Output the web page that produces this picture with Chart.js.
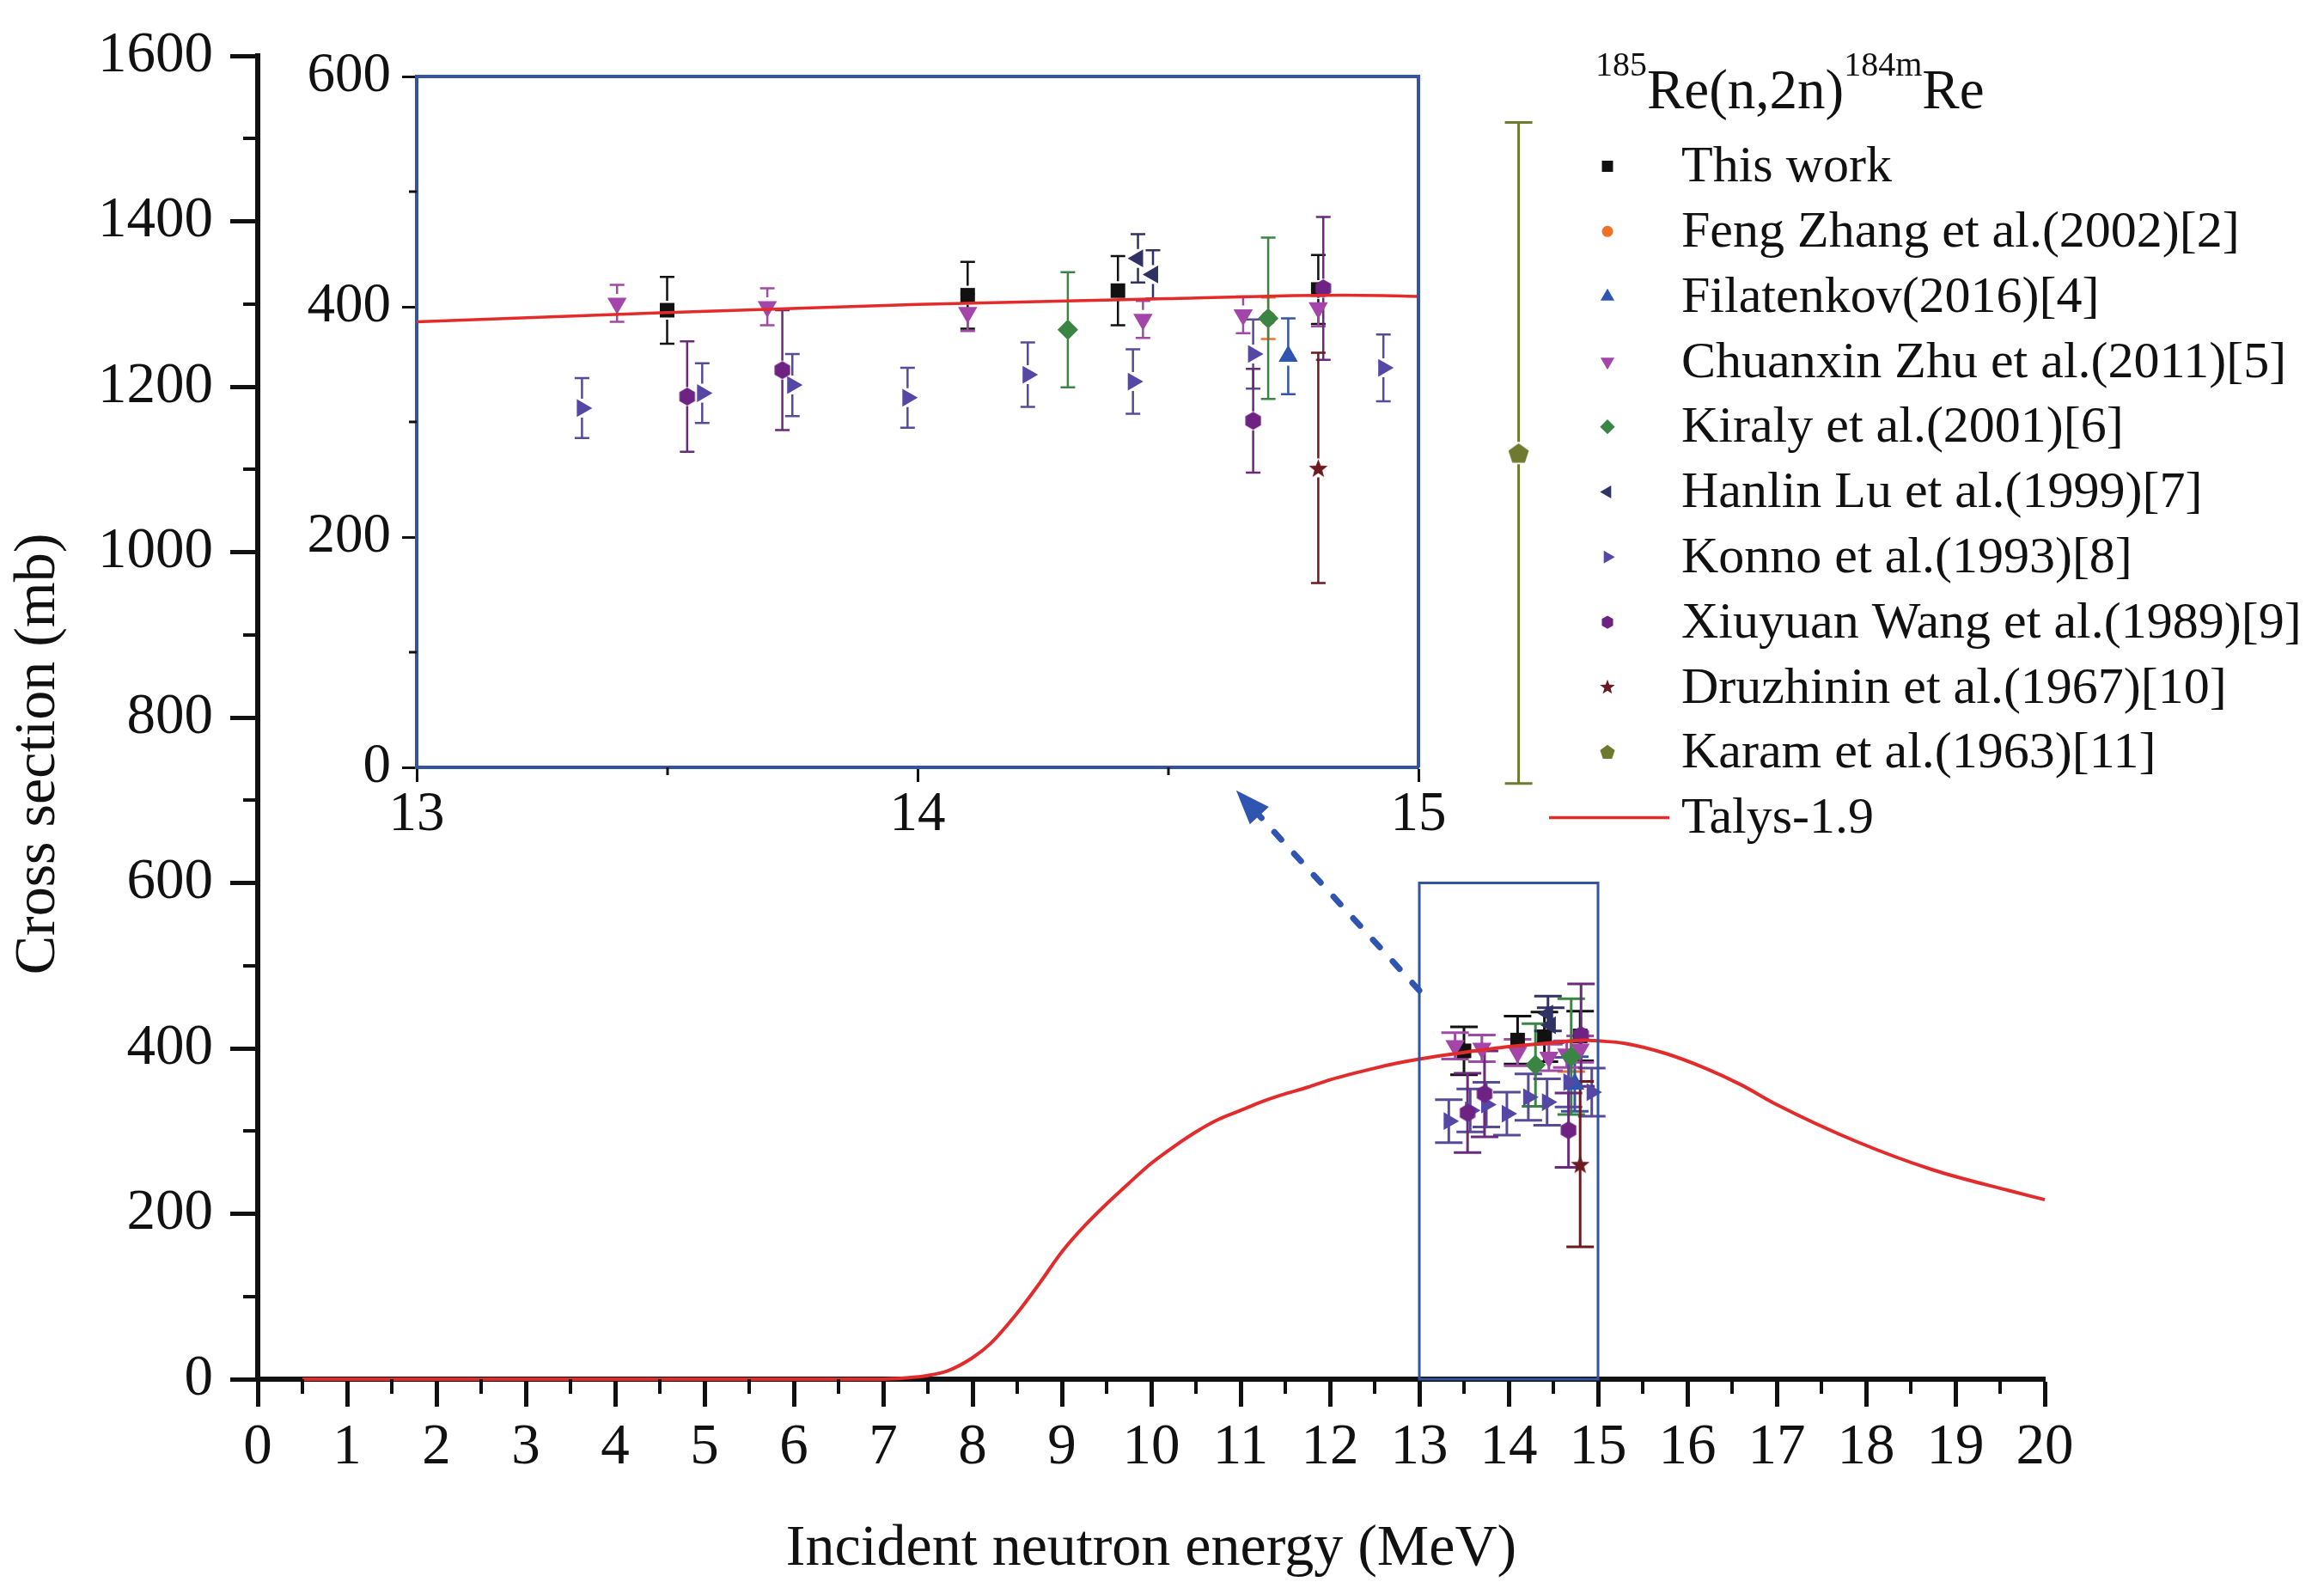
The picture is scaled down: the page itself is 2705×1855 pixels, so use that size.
<!DOCTYPE html>
<html><head><meta charset="utf-8">
<script src="https://cdn.jsdelivr.net/npm/chart.js@4.4.0/dist/chart.umd.min.js"></script>
<style>
html,body{margin:0;padding:0;background:#fff;}
#wrap{position:relative;width:2705px;height:1855px;background:#fff;}
#wrap canvas{position:absolute;left:0;top:0;}
</style></head><body>
<div id="wrap"><canvas id="main" width="2705" height="1855"></canvas><canvas id="inset" width="2705" height="1855"></canvas><canvas id="extra" width="2705" height="1855"></canvas></div>
<script>
// ---------- DATA ----------
const talysE  = [0.5, 7.0, 7.25, 7.5, 7.72, 8.0, 8.2, 8.5, 8.75, 9.0, 9.25, 9.5, 9.75, 10.0, 10.25, 10.5, 10.75, 11.0, 11.25, 11.5, 11.75, 12.0, 12.5, 12.75, 13.0, 13.5, 14.0, 14.5, 14.85, 15.0, 15.3, 15.75, 16.2, 16.6, 17.0, 17.9, 18.75, 19.6, 20.0];
const talysXS = [0, 0, 1.5, 4.5, 10, 26, 43, 80, 116, 154, 185, 212, 237, 261, 281, 299, 314, 325, 336, 345, 353, 362, 376, 382, 387, 395, 402, 407, 410, 409, 406, 394, 376, 356, 332, 287, 253, 228, 217];

const thisWorkE = [13.50, 14.10, 14.40, 14.80];
const thisWorkXS = [397, 410, 414, 415];
const thisWorkErr = [29, 29, 30, 30];

const zhangE = [14.70];
const zhangXS = [390];
const zhangErr = [18];

const filatenkovE = [14.74];
const filatenkovXS = [357];
const filatenkovErr = [33];

const zhuE = [13.40, 13.70, 14.10, 14.45, 14.65, 14.80];
const zhuXS = [403, 400, 395, 389, 393, 399];
const zhuErr = [16, 16, 16, 16, 16, 16];

const kiralyE = [14.30, 14.70];
const kiralyXS = [380, 390];
const kiralyErr = [50, 70];

const luE = [14.44, 14.47];
const luXS = [442, 428];
const luErr = [21, 21];

const konnoE = [13.33, 13.57, 13.75, 13.98, 14.22, 14.43, 14.67, 14.93];
const konnoXS = [312, 325, 332, 321, 341, 335, 359, 347];
const konnoErr = [26, 26, 27, 26, 28, 28, 30, 29];

const wangE = [13.54, 13.73, 14.67, 14.81];
const wangXS = [322, 345, 301, 416];
const wangErr = [48, 52, 45, 62];

const druzhininE = [14.80];
const druzhininXS = [260];
const druzhininErr = [100];

const karamE = [15.20];
const karamXS = [273];
const karamErr = [287];

const seriesLabels = ['This work','Feng Zhang et al.(2002)[2]','Filatenkov(2016)[4]','Chuanxin Zhu et al.(2011)[5]','Kiraly et al.(2001)[6]','Hanlin Lu et al.(1999)[7]','Konno et al.(1993)[8]','Xiuyuan Wang et al.(1989)[9]','Druzhinin et al.(1967)[10]','Karam et al.(1963)[11]'];
const talysLabel = 'Talys-1.9';

const mainXTicks = {min:0, max:20, step:1, minor:0.5};
const mainYTicks = {min:0, max:1600, step:200, minor:100};
const insetXTicks = {min:13, max:15, step:1, minor:0.5};
const insetYTicks = {min:0, max:600, step:200, minor:100};

// zoom box (in main-chart values) and arrow annotation
const zoomBox = {x0:13, x1:15, y0:0, y1:600};
const arrowTail = {x:13, y:470};
const arrowHead = {x:10.95, y:712};

// ---------- STYLE ----------
const FONT = "'Liberation Serif','Times New Roman',serif";
const INK = '#111111';
const FRAME = '#3453A0';
const RED = '#E22B2B';

function shapeCanvas(kind, r, color){
  const s = Math.ceil(r*2+2);
  const c = document.createElement('canvas'); c.width = s; c.height = s;
  const g = c.getContext('2d'); g.fillStyle = color; g.translate(s/2, s/2);
  g.beginPath();
  if (kind==='hexagon'){
    for(let k=0;k<6;k++){const a=-Math.PI/2+k*Math.PI/3; const px=r*Math.cos(a), py=r*Math.sin(a); k?g.lineTo(px,py):g.moveTo(px,py);}
  } else if (kind==='pentagon'){
    for(let k=0;k<5;k++){const a=-Math.PI/2+k*2*Math.PI/5; const px=r*Math.cos(a), py=r*Math.sin(a)+r*0.09; k?g.lineTo(px,py):g.moveTo(px,py);}
  } else if (kind==='star'){
    for(let k=0;k<10;k++){const a=-Math.PI/2+k*Math.PI/5; const rr=k%2?r*0.42:r; const px=rr*Math.cos(a), py=rr*Math.sin(a)+r*0.1; k?g.lineTo(px,py):g.moveTo(px,py);}
  }
  g.closePath(); g.fill();
  return c;
}

const markerDefs = [
  {style:'rect', rot:0, r:12, color:'#111111', err:'#111111'},
  {style:'circle', rot:0, r:9, color:'#F07028', err:'#F07028'},
  {style:'triangle', rot:0, r:13, color:'#2F55B0', err:'#3455A8'},
  {style:'triangle', rot:180, r:13, color:'#A445AA', err:'#A04AA6'},
  {style:'rectRot', rot:0, r:12, color:'#3A8543', err:'#3A8543'},
  {style:'triangle', rot:270, r:12, color:'#2F3262', err:'#2F3262'},
  {style:'triangle', rot:90, r:12, color:'#5447A6', err:'#594A98'},
  {style:'hexagon', rot:0, r:10.5, color:'#6E2382', err:'#6A2A7A'},
  {style:'star', rot:0, r:11.5, color:'#6B1A22', err:'#6B1A22'},
  {style:'pentagon', rot:0, r:12.5, color:'#6F7A30', err:'#6F7A30'}
];
const seriesE = [thisWorkE, zhangE, filatenkovE, zhuE, kiralyE, luE, konnoE, wangE, druzhininE, karamE];
const seriesXS = [thisWorkXS, zhangXS, filatenkovXS, zhuXS, kiralyXS, luXS, konnoXS, wangXS, druzhininXS, karamXS];
const seriesErr = [thisWorkErr, zhangErr, filatenkovErr, zhuErr, kiralyErr, luErr, konnoErr, wangErr, druzhininErr, karamErr];

function pts(E, XS){ return E.map((e,i)=>({x:e, y:XS[i]})); }

function seriesDataset(i){
  const m = markerDefs[i];
  const ps = (m.style==='hexagon'||m.style==='pentagon'||m.style==='star') ? shapeCanvas(m.style, m.r, m.color) : m.style;
  return {
    label: seriesLabels[i], data: pts(seriesE[i], seriesXS[i]), errors: seriesErr[i], errColor: m.err,
    pointStyle: ps, pointRotation: m.rot, pointRadius: m.r, pointHoverRadius: m.r,
    backgroundColor: m.color, borderColor: m.color, pointBorderWidth: 0, borderWidth: 0,
    showLine: false, order: 20 - i
  };
}

function buildDatasets(talysWidth){
  const out = [];
  for (let i = 0; i < 9; i++) out.push(seriesDataset(i));
  out.push({
    label: talysLabel, data: pts(talysE, talysXS), showLine: true, pointRadius: 0, pointHoverRadius: 0,
    borderColor: RED, backgroundColor: RED, borderWidth: talysWidth, cubicInterpolationMode: 'monotone', order: 0
  });
  return out;
}

// ---------- PLUGINS ----------
const errorBarPlugin = {
  id: 'errorBars',
  beforeDatasetsDraw(chart, args, opts){
    const ctx = chart.ctx, xs = chart.scales.x, ys = chart.scales.y;
    chart.data.datasets.forEach(ds => {
      if (!ds.errors) return;
      const cap = opts.capHalf, lw = opts.width, gap = opts.gap;
      ctx.save(); ctx.strokeStyle = ds.errColor; ctx.lineWidth = lw; ctx.lineCap = 'butt';
      ds.data.forEach((p, i) => {
        const e = ds.errors[i];
        const px = xs.getPixelForValue(p.x);
        const yt = ys.getPixelForValue(p.y + e), yb = ys.getPixelForValue(p.y - e), yc = ys.getPixelForValue(p.y);
        ctx.beginPath();
        ctx.moveTo(px, yt); ctx.lineTo(px, Math.max(yt, yc - gap));
        ctx.moveTo(px, yb); ctx.lineTo(px, Math.min(yb, yc + gap));
        ctx.moveTo(px - cap, yt); ctx.lineTo(px + cap, yt);
        ctx.moveTo(px - cap, yb); ctx.lineTo(px + cap, yb);
        ctx.stroke();
      });
      ctx.restore();
    });
  }
};

const minorTickPlugin = {
  id: 'minorTicks',
  afterDraw(chart, args, opts){
    if (!opts.x) return;
    const ctx = chart.ctx, xs = chart.scales.x, ys = chart.scales.y, a = chart.chartArea;
    ctx.save(); ctx.strokeStyle = INK; ctx.lineWidth = opts.width; ctx.lineCap='butt';
    ctx.beginPath();
    for (let v = opts.x.min + opts.x.minor; v < opts.x.max; v += opts.x.step){
      const px = Math.round(xs.getPixelForValue(v));
      ctx.moveTo(px, a.bottom); ctx.lineTo(px, a.bottom + opts.len);
    }
    for (let v = opts.y.min + opts.y.minor; v < opts.y.max; v += opts.y.step){
      const py = Math.round(ys.getPixelForValue(v));
      ctx.moveTo(a.left, py); ctx.lineTo(a.left - opts.len, py);
    }
    ctx.stroke(); ctx.restore();
  }
};

const framePlugin = {
  id: 'frame',
  afterDatasetsDraw(chart){
    const ctx = chart.ctx, a = chart.chartArea;
    ctx.save(); ctx.strokeStyle = FRAME; ctx.lineWidth = 4;
    ctx.beginPath();
    ctx.moveTo(a.left, a.top); ctx.lineTo(a.right, a.top); ctx.lineTo(a.right, a.bottom);
    ctx.stroke(); ctx.restore();
  }
};

function legendMarker(ctx, i, x, y){
  const m = markerDefs[i]; const r = m.r*0.72;
  ctx.save(); ctx.fillStyle = m.color; ctx.translate(x, y); ctx.beginPath();
  const poly = (n, rr, start, inner) => {
    const cnt = inner ? n*2 : n;
    for (let k=0;k<cnt;k++){ const ang = start + k*2*Math.PI/cnt; const q = inner && k%2 ? rr*inner : rr; const px=q*Math.cos(ang), py=q*Math.sin(ang); k?ctx.lineTo(px,py):ctx.moveTo(px,py); }
  };
  if (m.style==='rect'){ const s = r*0.75; ctx.rect(-s,-s,2*s,2*s); }
  else if (m.style==='circle'){ ctx.arc(0,0,r,0,Math.PI*2); }
  else if (m.style==='rectRot'){ poly(4, r, -Math.PI/2); }
  else if (m.style==='triangle'){ poly(3, r, -Math.PI/2 + m.rot*Math.PI/180); }
  else if (m.style==='hexagon'){ poly(6, r, -Math.PI/2); }
  else if (m.style==='pentagon'){ poly(5, r, -Math.PI/2); }
  else if (m.style==='star'){ poly(5, r*1.1, -Math.PI/2, 0.42); }
  ctx.closePath(); ctx.fill(); ctx.restore();
}

const decorPlugin = {
  id: 'decor',
  afterDraw(chart){
    const ctx = chart.ctx, xs = chart.scales.x, ys = chart.scales.y;
    // zoom box
    ctx.save(); ctx.strokeStyle = FRAME; ctx.lineWidth = 3;
    const bx0 = xs.getPixelForValue(zoomBox.x0), bx1 = xs.getPixelForValue(zoomBox.x1);
    const by0 = ys.getPixelForValue(zoomBox.y0), by1 = ys.getPixelForValue(zoomBox.y1);
    ctx.strokeRect(bx0, by1, bx1 - bx0, by0 - by1);
    // arrow
    const tx = xs.getPixelForValue(arrowTail.x), ty = ys.getPixelForValue(arrowTail.y);
    const hx = xs.getPixelForValue(arrowHead.x), hy = ys.getPixelForValue(arrowHead.y);
    const ang = Math.atan2(hy - ty, hx - tx), L = 40, W = 15;
    const bxp = hx - L*Math.cos(ang), byp = hy - L*Math.sin(ang);
    ctx.strokeStyle = '#2F55B0'; ctx.fillStyle = '#2F55B0'; ctx.lineWidth = 7; ctx.lineCap = 'round';
    ctx.setLineDash([12, 22]);
    ctx.beginPath(); ctx.moveTo(tx, ty); ctx.lineTo(bxp, byp); ctx.stroke();
    ctx.setLineDash([]);
    ctx.beginPath(); ctx.moveTo(hx, hy);
    ctx.lineTo(bxp + W*Math.sin(ang), byp - W*Math.cos(ang));
    ctx.lineTo(bxp - W*Math.sin(ang), byp + W*Math.cos(ang));
    ctx.closePath(); ctx.fill();
    ctx.restore();

    // legend
    ctx.save(); ctx.fillStyle = INK; ctx.textBaseline = 'alphabetic'; ctx.textAlign = 'left';
    let x = 1857;
    const parts = [['185', 40, 88], ['Re(n,2n)', 65, 126], ['184m', 40, 88], ['Re', 65, 126]];
    parts.forEach(p => { ctx.font = p[1] + 'px ' + FONT; ctx.fillText(p[0], x, p[2]); x += ctx.measureText(p[0]).width; });
    ctx.font = '60px ' + FONT; ctx.textBaseline = 'middle';
    const rowY0 = 193.5, dy = 75.8, mx = 1871, txx = 1957;
    seriesLabels.forEach((lab, i) => {
      const yy = rowY0 + dy*i;
      legendMarker(ctx, i, mx, yy);
      ctx.fillStyle = INK; ctx.fillText(lab, txx, yy + 2);
    });
    const ty2 = rowY0 + dy*10;
    ctx.strokeStyle = RED; ctx.lineWidth = 3.5;
    ctx.beginPath(); ctx.moveTo(1803, ty2); ctx.lineTo(1943, ty2); ctx.stroke();
    ctx.fillStyle = INK; ctx.fillText(talysLabel, txx, ty2 + 2);
    ctx.restore();
  }
};

const plainTick = v => String(v);

// ---------- MAIN CHART ----------
const mainDatasets = buildDatasets(4);
mainDatasets[mainDatasets.length - 1].clip = false;
new Chart(document.getElementById('main'), {
  type: 'scatter',
  data: { datasets: mainDatasets },
  options: {
    responsive: false, devicePixelRatio: 1, animation: false, events: [],
    layout: { padding: { left: 0, right: 325, top: 65, bottom: 0 } },
    plugins: {
      legend: { display: false }, tooltip: { enabled: false },
      errorBars: { capHalf: 16, width: 3, gap: 0 },
      minorTicks: { x: mainXTicks, y: mainYTicks, len: 17, width: 4 }
    },
    scales: {
      x: {
        type: 'linear', min: mainXTicks.min, max: mainXTicks.max,
        ticks: { stepSize: mainXTicks.step, autoSkip: false, maxRotation: 0, padding: 8, color: INK, font: { family: FONT, size: 67 }, callback: plainTick },
        grid: { drawOnChartArea: false, drawTicks: true, tickLength: 32, tickWidth: 5, tickColor: INK },
        border: { color: INK, width: 6 },
        title: { display: true, text: 'Incident neutron energy (MeV)', color: INK, font: { family: FONT, size: 68 }, padding: { top: 0, bottom: 11 } },
        afterFit: s => { s.height = 250; }
      },
      y: {
        type: 'linear', min: mainYTicks.min, max: mainYTicks.max,
        ticks: { stepSize: mainYTicks.step, autoSkip: false, padding: 20, color: INK, font: { family: FONT, size: 67 }, callback: plainTick },
        grid: { drawOnChartArea: false, drawTicks: true, tickLength: 32, tickWidth: 5, tickColor: INK },
        border: { color: INK, width: 6 },
        title: { display: true, text: 'Cross section (mb)     ', color: INK, font: { family: FONT, size: 68 }, padding: { top: 4, bottom: 0 } },
        afterFit: s => { s.width = 300; }
      }
    }
  },
  plugins: [errorBarPlugin, minorTickPlugin, decorPlugin]
});

// ---------- INSET CHART ----------
const insetChart = new Chart(document.getElementById('inset'), {
  type: 'scatter',
  data: { datasets: buildDatasets(3.5) },
  options: {
    responsive: false, devicePixelRatio: 1, animation: false, events: [],
    layout: { padding: { left: 0, right: 1054, top: 89, bottom: 0 } },
    plugins: {
      legend: { display: false }, tooltip: { enabled: false },
      errorBars: { capHalf: 8.5, width: 2.5, gap: 11 },
      minorTicks: { x: insetXTicks, y: insetYTicks, len: 9, width: 3 }
    },
    scales: {
      x: {
        type: 'linear', min: insetXTicks.min, max: insetXTicks.max,
        ticks: { stepSize: insetXTicks.step, autoSkip: false, maxRotation: 0, padding: 0, color: INK, font: { family: FONT, size: 65 }, callback: plainTick },
        grid: { drawOnChartArea: false, drawTicks: true, tickLength: 17, tickWidth: 3, tickColor: INK },
        border: { color: FRAME, width: 4 },
        afterFit: s => { s.height = 962; }
      },
      y: {
        type: 'linear', min: insetYTicks.min, max: insetYTicks.max,
        ticks: { stepSize: insetYTicks.step, autoSkip: false, padding: 13, color: INK, font: { family: FONT, size: 65 }, callback: plainTick },
        grid: { drawOnChartArea: false, drawTicks: true, tickLength: 17, tickWidth: 3, tickColor: INK },
        border: { color: FRAME, width: 4 },
        afterFit: s => { s.width = 485; }
      }
    }
  },
  plugins: [errorBarPlugin, minorTickPlugin, framePlugin]
});

// ---------- KARAM (plotted just right of the inset, same inset scale) ----------
const ia = insetChart.chartArea;
const pxPerMeV = (ia.right - ia.left) / (insetXTicks.max - insetXTicks.min);
const extraMax = 15.3;
const extraRight = ia.left + pxPerMeV * (extraMax - insetXTicks.min);
new Chart(document.getElementById('extra'), {
  type: 'scatter',
  data: { datasets: [seriesDataset(9)] },
  options: {
    responsive: false, devicePixelRatio: 1, animation: false, events: [],
    layout: { padding: { left: ia.left, right: 2705 - extraRight, top: ia.top, bottom: 1855 - ia.bottom } },
    plugins: {
      legend: { display: false }, tooltip: { enabled: false },
      errorBars: { capHalf: 16, width: 3, gap: 13 }
    },
    scales: {
      x: { type: 'linear', display: false, min: insetXTicks.min, max: extraMax },
      y: { type: 'linear', display: false, min: insetYTicks.min, max: insetYTicks.max }
    }
  },
  plugins: [errorBarPlugin]
});
</script>
</body></html>
